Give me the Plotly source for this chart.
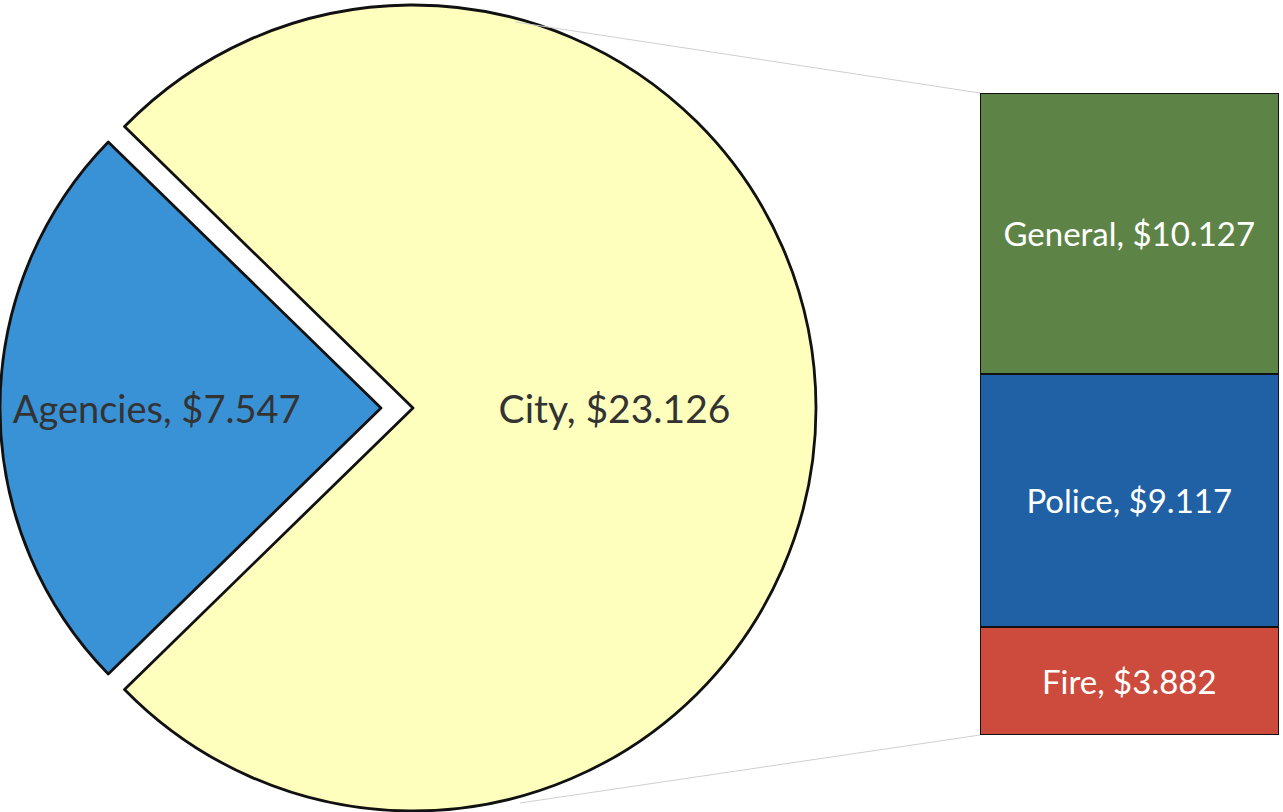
import plotly.graph_objects as go

# ---- data ----
pie_labels = ["Agencies", "City"]
pie_values = [7.547, 23.126]
bar_labels = ["Fire", "Police", "General"]
bar_values = [3.882, 9.117, 10.127]

# ---- styles ----
pie_colors = ["#3a92d6", "#fefebd"]
bar_colors = {"Fire": "#cd4b3d", "Police": "#2060a4", "General": "#5d8446"}
W, H = 1283, 812
FONT = "Lato"

total = sum(pie_values)
ag_deg = pie_values[0] / total * 360.0
rotation = 270.0 - ag_deg / 2.0  # center Agencies slice at 9 o'clock

def lab(name, v):
    return f"{name}, ${v:.3f}"

pie_y = [(H - 811) / H, (H - 5) / H]

fig = go.Figure()

# City slice (Agencies hidden in this layer)
fig.add_trace(go.Pie(
    labels=pie_labels, values=pie_values, sort=False, direction="clockwise",
    rotation=rotation,
    domain=dict(x=[0, 826 / W], y=pie_y),
    marker=dict(colors=["rgba(0,0,0,0)", pie_colors[1]],
                line=dict(color=["rgba(0,0,0,0)", "#111111"], width=[0, 2.8])),
    text=["", lab(pie_labels[1], pie_values[1])], textinfo="text",
    textposition="inside", insidetextorientation="horizontal",
    textfont=dict(family=FONT, size=39, color="#333333"),
    hoverinfo="skip", showlegend=False,
))

# Agencies slice, pulled out to the left (City hidden in this layer)
fig.add_trace(go.Pie(
    labels=pie_labels, values=pie_values, sort=False, direction="clockwise",
    rotation=rotation,
    domain=dict(x=[0, 762 / W], y=pie_y),
    marker=dict(colors=[pie_colors[0], "rgba(0,0,0,0)"],
                line=dict(color=["#111111", "rgba(0,0,0,0)"], width=[2.8, 0])),
    text=[lab(pie_labels[0], pie_values[0]), ""], textinfo="text",
    textposition="inside", insidetextorientation="horizontal",
    textfont=dict(family=FONT, size=38, color="#333333"),
    hoverinfo="skip", showlegend=False,
))

# Stacked bar
for name, v in zip(bar_labels, bar_values):
    fig.add_trace(go.Bar(
        x=["Sub"], y=[v], name=name, width=1,
        marker=dict(color=bar_colors[name], line=dict(color="#111111", width=2.5)),
        text=[lab(name, v)], textposition="inside", insidetextanchor="middle",
        textfont=dict(family=FONT, size=33, color="white"),
        textangle=0, constraintext="none",
        hoverinfo="skip", showlegend=False,
        xaxis="x", yaxis="y",
    ))

bx0, bx1 = 980 / W, 1279 / W
by0, by1 = (H - 735) / H, (H - 93) / H

fig.update_layout(
    width=W, height=H,
    margin=dict(l=0, r=0, t=0, b=0),
    paper_bgcolor="white", plot_bgcolor="white",
    barmode="stack", bargap=0,
    xaxis=dict(domain=[bx0, bx1], range=[-0.5, 0.5], visible=False, fixedrange=True),
    yaxis=dict(domain=[by0, by1], range=[0, sum(bar_values)], visible=False, fixedrange=True),
    shapes=[
        dict(type="line", xref="paper", yref="paper",
             x0=515 / W, y0=(H - 22) / H, x1=bx0, y1=by1,
             line=dict(color="#cfcfcf", width=1)),
        dict(type="line", xref="paper", yref="paper",
             x0=520 / W, y0=(H - 803) / H, x1=bx0, y1=by0,
             line=dict(color="#cfcfcf", width=1)),
    ],
)

fig.write_html("out.html", config={"displayModeBar": False},
               post_script="document.body.style.margin='0px';document.body.style.overflow='hidden';")
